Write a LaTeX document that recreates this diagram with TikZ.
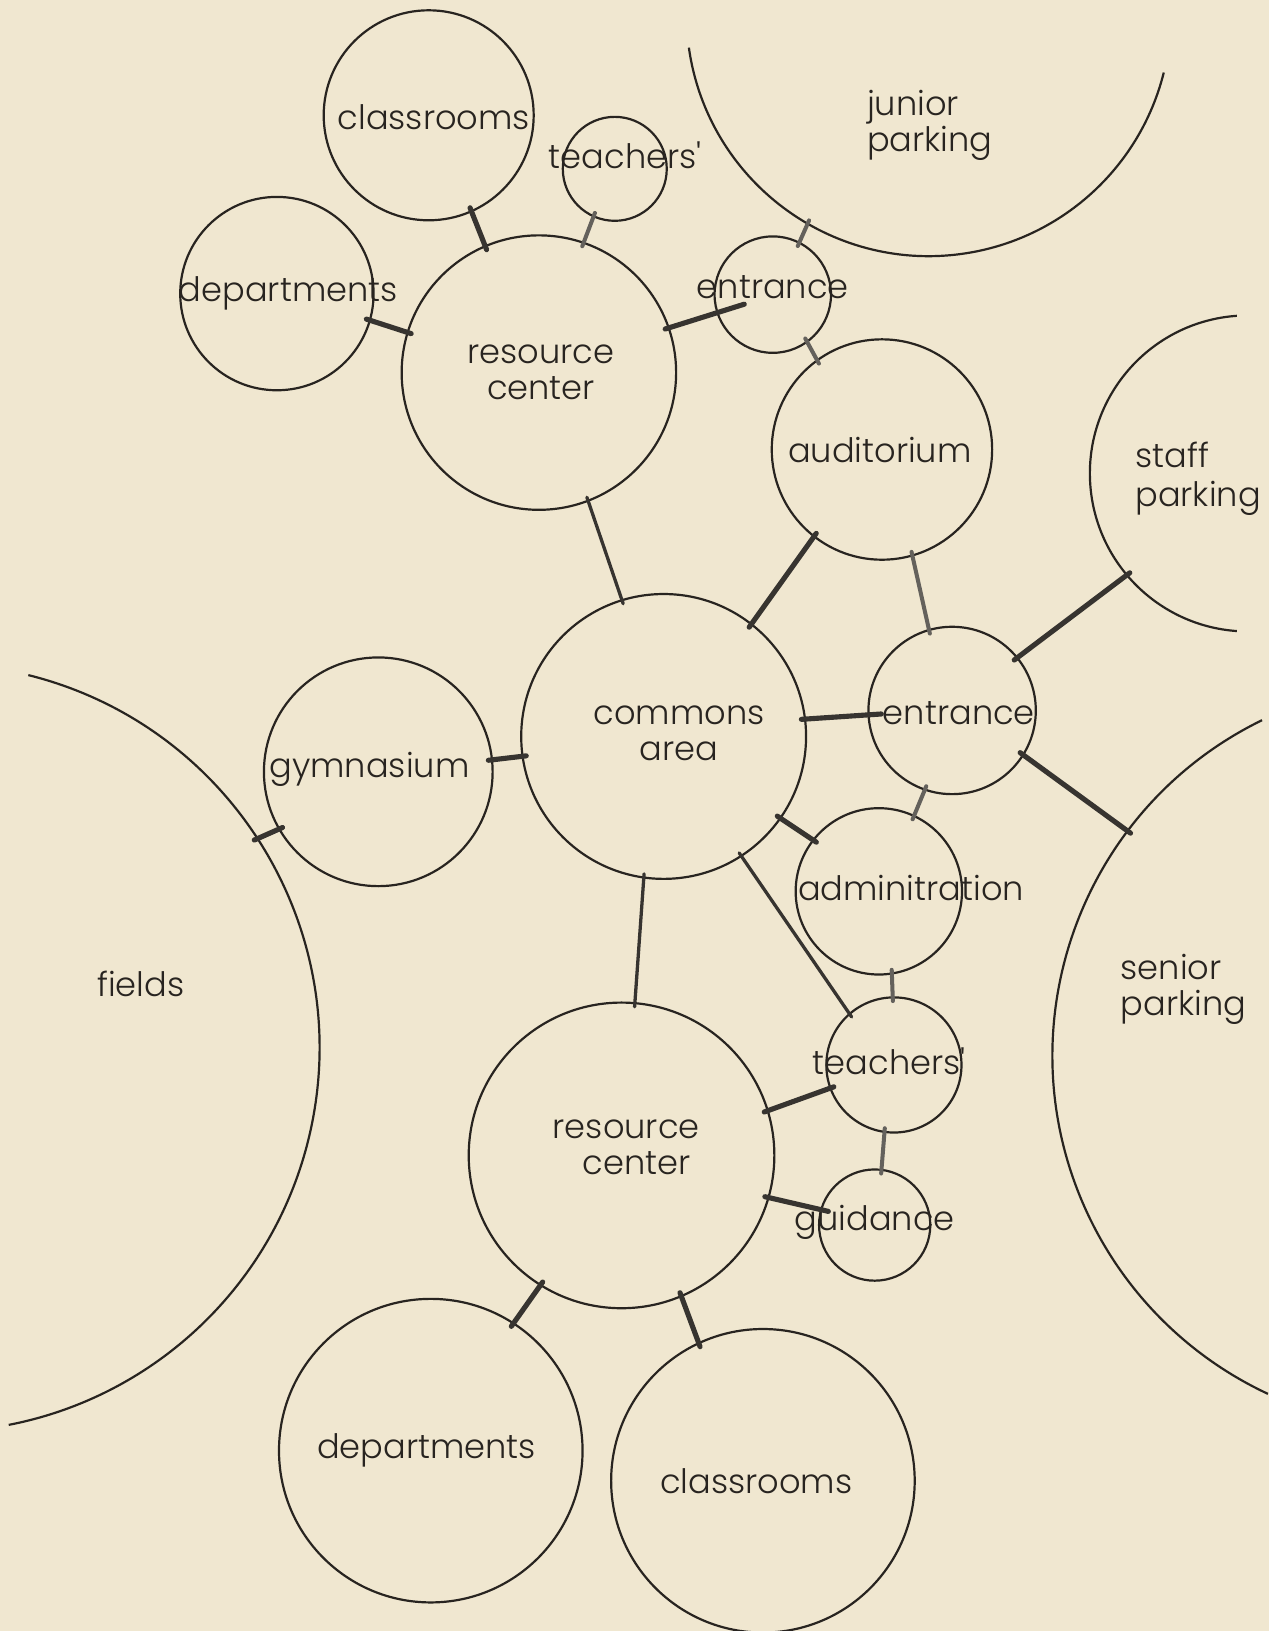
\documentclass[tikz,border=0pt]{standalone}
\usepackage{fontspec}
\IfFontExistsTF{Poppins Light}{\setmainfont{Poppins Light}}{\setmainfont{Poppins}}
\usetikzlibrary{positioning}

\definecolor{paper}{RGB}{240,231,208}
\definecolor{ink}{RGB}{40,36,32}
\definecolor{wire}{RGB}{55,52,48}
\definecolor{faintWire}{RGB}{100,97,92}

\begin{document}
\begin{tikzpicture}[on grid]
  \newdimen\dist
  \dist=0.01cm

  \tikzstyle{room} = [
    % The shape:
    circle, inner sep=0pt, outer sep=0pt,
    % The border:
    draw=ink, line width=0.6pt
  ];
  \tikzstyle{grounds} = [
    % The shape only, the border is drawn as an arc:
    circle, inner sep=0pt, outer sep=0pt
  ];
  \tikzstyle{groundsEdge} = [
    draw=ink,
    line width=0.6pt
  ];
  \tikzstyle{roomName} = [
    % Just text!
    inner sep=0pt, align=center, text=ink,
    font=\fontsize{9.2}{9.8}\selectfont
  ];
  \tikzstyle{groundsName} = [
    roomName, align=left
  ];
  \tikzstyle{link} = [
    draw=wire,
    line width=1.4pt, line cap=round,
    shorten <=-1pt, shorten >=-1pt
  ];
  \tikzstyle{longLink} = [
    link,
    line width=0.9pt
  ];
  \tikzstyle{faintLink} = [
    link,
    draw=faintWire,
    line width=1.1pt
  ];

  \path [use as bounding box, fill=paper] (0,0) rectangle (12.2,-15.68);

  \node [room, minimum size=274*\dist] (commonsArea) at (6.38,-7.08) {};

  \node [room, minimum size=264*\dist, above left=350*\dist and 120*\dist of commonsArea] (resourceCenterTop) {};
  \node [room, minimum size=202*\dist, above left=597.5*\dist and 226*\dist of commonsArea] (classroomsTop) {};
  \node [room, minimum size=100*\dist, above left=546*\dist and 47*\dist of commonsArea] (teachersTop) {};
  \node [room, minimum size=186*\dist, above left=426*\dist and 372*\dist of commonsArea] (departmentsTop) {};
  \node [room, minimum size=112*\dist, above right=425*\dist and 105*\dist of commonsArea] (entranceTop) {};
  \node [room, minimum size=212*\dist, above right=276*\dist and 210*\dist of commonsArea] (auditorium) {};
  \node [room, minimum size=161*\dist, above right=25*\dist and 277.5*\dist of commonsArea] (entranceRight) {};
  \node [room, minimum size=220*\dist, below left=34*\dist and 274.5*\dist of commonsArea] (gymnasium) {};
  \node [room, minimum size=160*\dist, below right=149*\dist and 207*\dist of commonsArea] (administration) {};
  \node [room, minimum size=130*\dist, below right=316*\dist and 221.5*\dist of commonsArea] (teachersBottom) {};
  \node [room, minimum size=107*\dist, below right=470*\dist and 203*\dist of commonsArea] (guidance) {};
  \node [room, minimum size=294*\dist, below left=403*\dist and 40.5*\dist of commonsArea] (resourceCenterBottom) {};
  \node [room, minimum size=292*\dist, below left=687*\dist and 224*\dist of commonsArea] (departmentsBottom) {};
  \node [room, minimum size=292*\dist, below right=716*\dist and 95.5*\dist of commonsArea] (classroomsBottom) {};

  \node [grounds, minimum size=466*\dist, above right=695*\dist and 255*\dist of commonsArea] (juniorParking) {};
  \node [grounds, minimum size=304*\dist, above right=253*\dist and 562*\dist of commonsArea] (staffParking) {};
  \node [grounds, minimum size=718*\dist, below right=307*\dist and 733*\dist of commonsArea] (seniorParking) {};
  \node [grounds, minimum size=739*\dist, below left=299.5*\dist and 700.5*\dist of commonsArea] (fields) {};

  \draw [groundsEdge] (juniorParking.188) arc [start angle=188, end angle=346, radius=233*\dist];
  \draw [groundsEdge] (staffParking.94) arc [start angle=94, end angle=266, radius=152*\dist];
  \draw [groundsEdge] (seniorParking.116) arc [start angle=116, end angle=245, radius=359*\dist];
  \draw [groundsEdge] (fields.76) arc [start angle=76, end angle=-79, radius=369.5*\dist];

  \node [roomName, above right=3*\dist and 15*\dist of commonsArea] (commonsAreaText) {commons\\area};
  \node [roomName, right=2*\dist of resourceCenterTop] (resourceCenterTopText) {resource\\center};
  \node [roomName, below right=1.5*\dist and 5*\dist of classroomsTop] (classroomsTopText) {classrooms};
  \node [roomName, above right=13*\dist and 10*\dist of teachersTop] (teachersTopText) {teachers\textquotesingle};
  \node [roomName, right=11*\dist of departmentsTop] (departmentsTopText) {departments};
  \node [roomName, above=7*\dist of entranceTop] (entranceTopText) {entrance};
  \node [roomName, left=2*\dist of auditorium] (auditoriumText) {auditorium};
  \node [roomName, below right=3*\dist and 6.5*\dist of entranceRight] (entranceRightText) {entrance};
  \node [roomName, above left=2*\dist and 8.5*\dist of gymnasium] (gymnasiumText) {gymnasium};
  \node [roomName, above right=3*\dist and 31*\dist of administration] (administrationText) {adminitration};
  \node [roomName, above left=4*\dist and 4.5*\dist of teachersBottom] (teachersBottomText) {teachers\textquotesingle};
  \node [roomName, above=3*\dist of guidance] (guidanceText) {guidance};
  \node [roomName, above right=8*\dist and 4.5*\dist of resourceCenterBottom] (resourceCenterBottomText) {resource\\\hspace*{0.2cm}center};
  \node [roomName, left=4*\dist of departmentsBottom] (departmentsBottomText) {departments};
  \node [roomName, left=6.5*\dist of classroomsBottom] (classroomsBottomText) {classrooms};

  \node [groundsName, below left=107*\dist and 60*\dist of juniorParking, anchor=west] (juniorParkingText) {junior\\parking};
  \node [groundsName, below left=5*\dist and 109*\dist of staffParking, anchor=west, font=\fontsize{9.2}{10.8}\selectfont] (staffParkingText) {staff\\parking};
  \node [groundsName, above left=64*\dist and 294*\dist of seniorParking, anchor=west] (seniorParkingText) {senior\\parking};
  \node [roomName, above right=61.5*\dist and 197.5*\dist of fields] (fieldsText) {fields};

  \path [link] (classroomsTop.-66) to (resourceCenterTop.113);
  \path [faintLink] (teachersTop.-114) to (resourceCenterTop.71);
  \path [link] (departmentsTop.-16) to (resourceCenterTop.163);
  \path [link, shorten >=-7.7pt] (resourceCenterTop.19) to (entranceTop.198);
  \path [faintLink] (juniorParking.-120) to (entranceTop.63);
  \path [faintLink] (entranceTop.-54) to (auditorium.126);
  \path [longLink] (resourceCenterTop.-69) to (commonsArea.107);
  \path [link] (auditorium.-128) to (commonsArea.52);
  \path [faintLink] (auditorium.-74) to (entranceRight.106);
  \path [link] (staffParking.-140) to (entranceRight.39);
  \path [link, shorten >=-3.5pt] (commonsArea.7) to (entranceRight.183);
  \path [link] (entranceRight.-32) to (seniorParking.143);
  \path [link] (gymnasium.6) to (commonsArea.188);
  \path [link] (fields.33) to (gymnasium.-150);
  \path [link] (commonsArea.-35) to (administration.142);
  \path [faintLink] (entranceRight.-109) to (administration.65);
  \path [longLink] (commonsArea.-57) to (teachersBottom.131);
  \path [longLink] (commonsArea.-98) to (resourceCenterBottom.85);
  \path [faintLink] (administration.-81) to (teachersBottom.91);
  \path [link] (resourceCenterBottom.17) to (teachersBottom.-160);
  \path [faintLink] (teachersBottom.-98) to (guidance.83);
  \path [link, shorten >=-2pt] (resourceCenterBottom.-16) to (guidance.164);
  \path [link] (resourceCenterBottom.-122) to (departmentsBottom.57);
  \path [link] (resourceCenterBottom.-67) to (classroomsBottom.115);
\end{tikzpicture}
\end{document}
